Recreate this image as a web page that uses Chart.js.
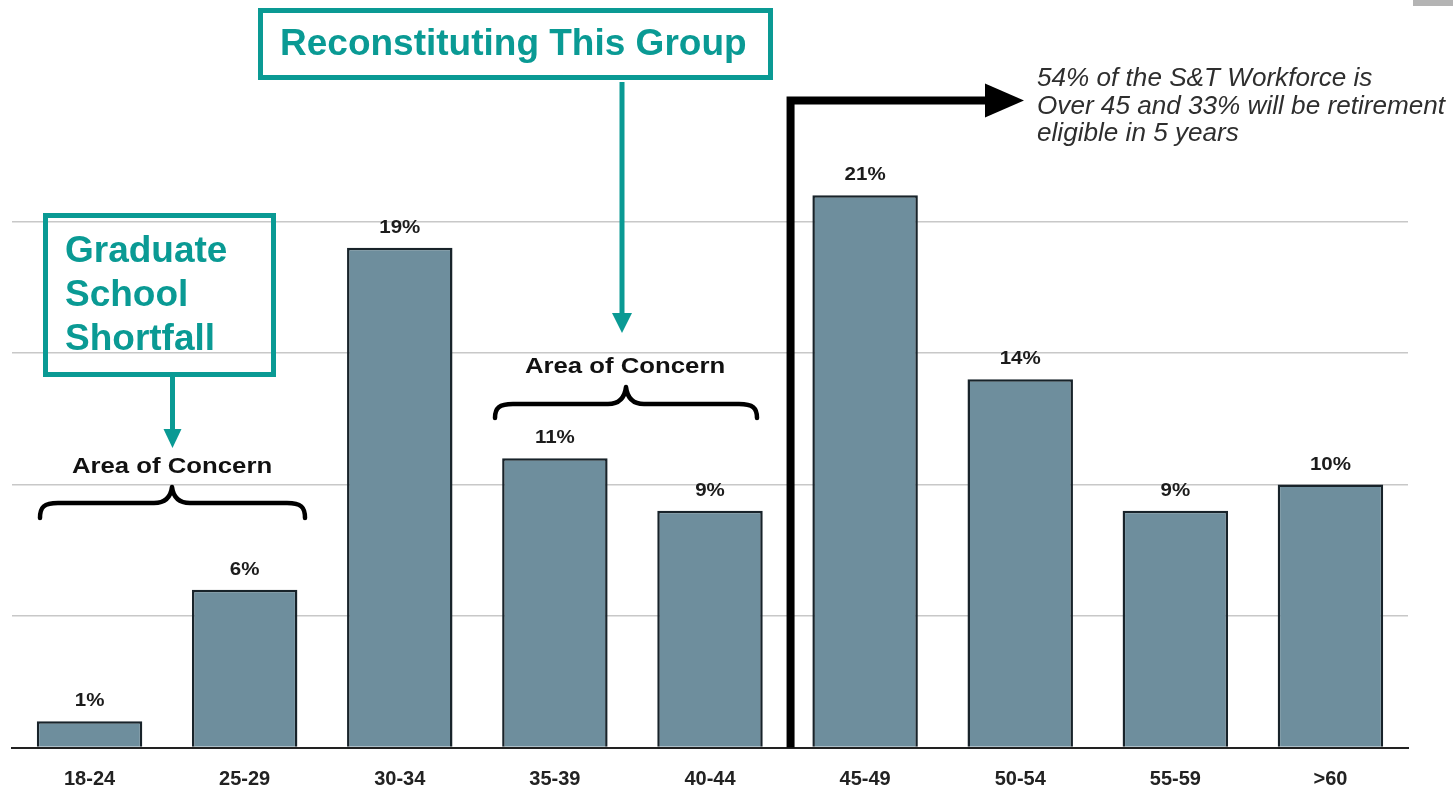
<!DOCTYPE html>
<html><head><meta charset="utf-8">
<script src="https://cdn.jsdelivr.net/npm/chart.js@4/dist/chart.umd.min.js"></script>
<style>html,body{margin:0;padding:0;background:#fff;overflow:hidden}</style>
</head><body>
<canvas id="c" width="1453" height="792" style="display:block;width:1453px;height:792px"></canvas>
<script>
const categories = ['18-24','25-29','30-34','35-39','40-44','45-49','50-54','55-59','>60'];
const workforceShare = [1, 6, 19, 11, 9, 21, 14, 9, 10];
const valueLabels = ['1%','6%','19%','11%','9%','21%','14%','9%','10%'];
const yTickValues = [0, 5, 10, 15, 20, 25];

const TEAL = '#0A9A94';
const FONT = '"Liberation Sans", Arial, Helvetica, sans-serif';

function sText(ctx, text, x, y, font, sx, align, color) {
  ctx.save();
  ctx.translate(x, y);
  ctx.scale(sx, 1);
  ctx.font = font;
  ctx.textAlign = align;
  ctx.textBaseline = 'alphabetic';
  ctx.fillStyle = color;
  ctx.fillText(text, 0, 0);
  ctx.restore();
}

function arrowDown(ctx, x, y0, y1, lw, hw, hl, color) {
  ctx.save();
  ctx.strokeStyle = color; ctx.fillStyle = color; ctx.lineWidth = lw; ctx.lineCap = 'butt';
  ctx.beginPath(); ctx.moveTo(x, y0); ctx.lineTo(x, y1 - hl + 1); ctx.stroke();
  ctx.beginPath(); ctx.moveTo(x - hw / 2, y1 - hl); ctx.lineTo(x + hw / 2, y1 - hl); ctx.lineTo(x, y1); ctx.closePath(); ctx.fill();
  ctx.restore();
}

function brace(ctx, x1, x2, xm, ytop, ymid, ybot) {
  const r = 18;
  ctx.save();
  ctx.strokeStyle = '#000'; ctx.lineWidth = 4.5; ctx.lineJoin = 'round'; ctx.lineCap = 'round';
  ctx.beginPath();
  ctx.moveTo(x1, ybot);
  ctx.bezierCurveTo(x1, ymid + 4, x1 + 4, ymid, x1 + r, ymid);
  ctx.lineTo(xm - r, ymid);
  ctx.quadraticCurveTo(xm - 2, ymid, xm, ytop);
  ctx.quadraticCurveTo(xm + 2, ymid, xm + r, ymid);
  ctx.lineTo(x2 - r, ymid);
  ctx.bezierCurveTo(x2 - 4, ymid, x2, ymid + 4, x2, ybot);
  ctx.stroke();
  ctx.restore();
}

const annotations = {
  id: 'annotations',
  afterDatasetsDraw(chart) {
    const ctx = chart.ctx;
    const xs = chart.scales.x, ys = chart.scales.y;
    const meta = chart.getDatasetMeta(0);

    // value labels above bars
    meta.data.forEach((bar, i) => {
      sText(ctx, valueLabels[i], bar.x, bar.y - 15, 'bold 19px ' + FONT, 1.08, 'center', '#1c1c1c');
    });

    // black divider arrow between 40-44 and 45-49
    const xv = xs.getPixelForValue(4.5) + 3;
    const yh = ys.getPixelForValue(24.6);
    ctx.save();
    ctx.strokeStyle = '#000'; ctx.fillStyle = '#000'; ctx.lineWidth = 8; ctx.lineJoin = 'miter'; ctx.lineCap = 'butt';
    ctx.beginPath(); ctx.moveTo(xv, ys.getPixelForValue(0)); ctx.lineTo(xv, yh); ctx.lineTo(987, yh); ctx.stroke();
    ctx.beginPath(); ctx.moveTo(985, yh - 17); ctx.lineTo(1024, yh); ctx.lineTo(985, yh + 17); ctx.closePath(); ctx.fill();
    ctx.restore();

    // italic note
    const noteFont = 'italic 25px ' + FONT;
    sText(ctx, '54% of the S&T Workforce is', 1037, 86, noteFont, 1.045, 'left', '#2e2e2e');
    sText(ctx, 'Over 45 and 33% will be retirement', 1037, 114, noteFont, 1.045, 'left', '#2e2e2e');
    sText(ctx, 'eligible in 5 years', 1037, 141, noteFont, 1.045, 'left', '#2e2e2e');

    // Reconstituting box
    ctx.save();
    ctx.strokeStyle = TEAL; ctx.lineWidth = 5;
    ctx.strokeRect(260.5, 10.5, 510, 67);
    ctx.restore();
    sText(ctx, 'Reconstituting This Group', 280, 55, 'bold 37px ' + FONT, 1.0, 'left', TEAL);
    arrowDown(ctx, 622, 82, 333, 5, 20, 20, TEAL);

    // Graduate box
    ctx.save();
    ctx.strokeStyle = TEAL; ctx.lineWidth = 5;
    ctx.strokeRect(45.5, 215.5, 228, 159);
    ctx.restore();
    const gFont = 'bold 37px ' + FONT;
    sText(ctx, 'Graduate', 65, 262, gFont, 1.0, 'left', TEAL);
    sText(ctx, 'School', 65, 306, gFont, 1.0, 'left', TEAL);
    sText(ctx, 'Shortfall', 65, 350, gFont, 1.0, 'left', TEAL);
    arrowDown(ctx, 172.5, 377, 448, 5, 18, 19, TEAL);

    // Areas of concern
    const aFont = 'bold 22px ' + FONT;
    sText(ctx, 'Area of Concern', 172, 473, aFont, 1.17, 'center', '#111');
    brace(ctx, 40, 305, 172, 487, 503, 518);
    sText(ctx, 'Area of Concern', 625, 373, aFont, 1.17, 'center', '#111');
    brace(ctx, 495, 757, 626, 387, 404, 418);

    // small grey mark at top-right corner
    ctx.save(); ctx.fillStyle = '#b4b4b4'; ctx.fillRect(1413, 0, 40, 6); ctx.restore();
  }
};

new Chart(document.getElementById('c'), {
  type: 'bar',
  data: {
    labels: categories,
    datasets: [{
      data: workforceShare,
      backgroundColor: '#6E8E9D',
      borderColor: '#18232a',
      borderWidth: 2.5,
      barPercentage: 0.68,
      categoryPercentage: 1.0
    }]
  },
  options: {
    responsive: false,
    devicePixelRatio: 1,
    animation: false,
    layout: { padding: { left: 12, right: 45, top: 90, bottom: 0 } },
    plugins: { legend: { display: false }, tooltip: { enabled: false }, title: { display: false } },
    scales: {
      x: {
        offset: true,
        grid: { display: false, drawTicks: false },
        border: { display: true, color: '#222', width: 2 },
        ticks: { color: '#222', font: { family: FONT, size: 20, weight: 'bold' }, padding: 20, maxRotation: 0, autoSkip: false },
        afterFit: s => { s.height = 44.5; }
      },
      y: {
        min: 0, max: 25,
        afterBuildTicks: s => { s.ticks = yTickValues.map(v => ({ value: v })); },
        ticks: { display: false },
        grid: {
          drawTicks: false,
          lineWidth: 1.5,
          color: c => (c.tick && (c.tick.value === 0 || c.tick.value === 25)) ? 'rgba(0,0,0,0)' : '#c8c8c8'
        },
        border: { display: false },
        afterFit: s => { s.width = 0; }
      }
    }
  },
  plugins: [annotations]
});
</script>
</body></html>
